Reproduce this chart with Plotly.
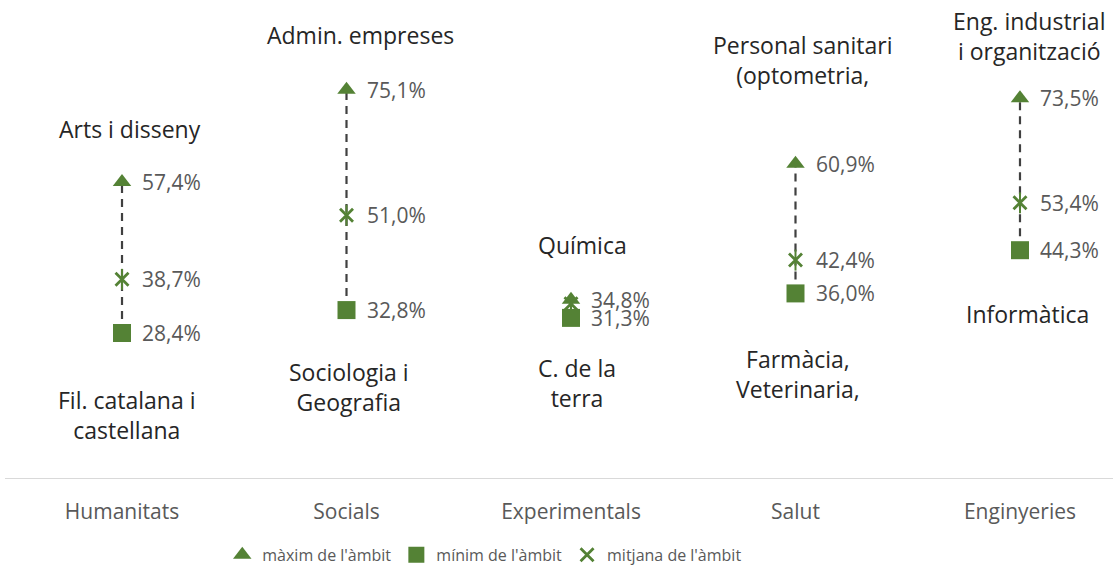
import plotly.graph_objects as go

categories = ["Humanitats", "Socials", "Experimentals", "Salut", "Enginyeries"]
max_vals = [57.4, 75.1, 34.8, 60.9, 73.5]
min_vals = [28.4, 32.8, 31.3, 36.0, 44.3]
mean_vals = [38.7, 51.0, 34.0, 42.4, 53.4]
mean_label_show = [True, True, False, True, True]
top_labels = ["Arts i disseny", "Admin. empreses", "Química",
              "Personal sanitari<br>(optometria,", "Eng. industrial<br>i organització"]
bottom_labels = ["Fil. catalana i<br>castellana", "Sociologia i<br>Geografia", "C. de la<br>terra",
                 "Farmàcia,<br>Veterinaria,", "Informàtica"]

GREEN = "#548235"
GREY = "#595959"
FONT = "Open Sans"

def fmt(v):
    return f"{v:.1f}".replace(".", ",") + "%"

xs = list(range(len(categories)))

fig = go.Figure()

# dashed range lines
lx, ly = [], []
for i in xs:
    lx += [i, i, None]
    ly += [min_vals[i], max_vals[i], None]
fig.add_trace(go.Scatter(x=lx, y=ly, mode="lines", showlegend=False, hoverinfo="skip",
                         line=dict(color="#404040", width=2.2, dash="8px,6px")))

fig.add_trace(go.Scatter(x=xs, y=max_vals, mode="markers", name="màxim de l'àmbit",
                         marker=dict(symbol="triangle-up", size=16, color=GREEN)))
fig.add_trace(go.Scatter(x=xs, y=min_vals, mode="markers", name="mínim de l'àmbit",
                         marker=dict(symbol="square", size=18, color=GREEN)))
fig.add_trace(go.Scatter(x=xs, y=mean_vals, mode="markers", showlegend=False, hoverinfo="skip",
                         marker=dict(symbol="line-ns-open", size=15, color=GREEN,
                                     line=dict(color=GREEN, width=2))))
fig.add_trace(go.Scatter(x=xs, y=mean_vals, mode="markers", name="mitjana de l'àmbit",
                         marker=dict(symbol="x-thin-open", size=13, color=GREEN,
                                     line=dict(color=GREEN, width=2.8))))

# value labels
for i in xs:
    for v in [max_vals[i], min_vals[i]] + ([mean_vals[i]] if mean_label_show[i] else []):
        fig.add_annotation(x=i, y=v, text=fmt(v), showarrow=False, xanchor="left", yanchor="middle",
                           xshift=18, font=dict(family=FONT, size=21, color=GREY))

top_shift = [(8, 35), (14, 37), (11, 37), (7, 71), (9, 29)]
bot_shift = [(5, -49), (2, -44), (6, -32), (2, -48), (8, -46)]
for i in xs:
    dx, dy = top_shift[i]
    fig.add_annotation(x=i, y=max_vals[i], text=top_labels[i], showarrow=False, xanchor="center",
                       yanchor="bottom", xshift=dx, yshift=dy, align="center",
                       font=dict(family=FONT, size=23, color="#262626"))
    dx, dy = bot_shift[i]
    fig.add_annotation(x=i, y=min_vals[i], text=bottom_labels[i], showarrow=False, xanchor="center",
                       yanchor="top", xshift=dx, yshift=dy, align="center",
                       font=dict(family=FONT, size=23, color="#262626"))

fig.update_layout(
    width=1113, height=572,
    margin=dict(l=5, r=0, t=10, b=94),
    paper_bgcolor="white", plot_bgcolor="white",
    font=dict(family=FONT, color=GREY),
    xaxis=dict(range=[-0.5212, 4.4143], tickvals=xs, ticktext=categories, showgrid=False,
               zeroline=False, showline=True, linecolor="#d9d9d9", linewidth=1,
               ticks="", ticklabelstandoff=15, tickfont=dict(family=FONT, size=21, color=GREY)),
    yaxis=dict(range=[0.55, 90.43], visible=False),
    legend=dict(orientation="h", x=0.433, xanchor="center", y=-0.2005, yanchor="bottom",
                font=dict(family=FONT, size=16, color=GREY), itemwidth=30),
    showlegend=True,
)

fig.write_html("out.html", post_script="document.body.style.margin='0px';",
               config={"displayModeBar": False})
